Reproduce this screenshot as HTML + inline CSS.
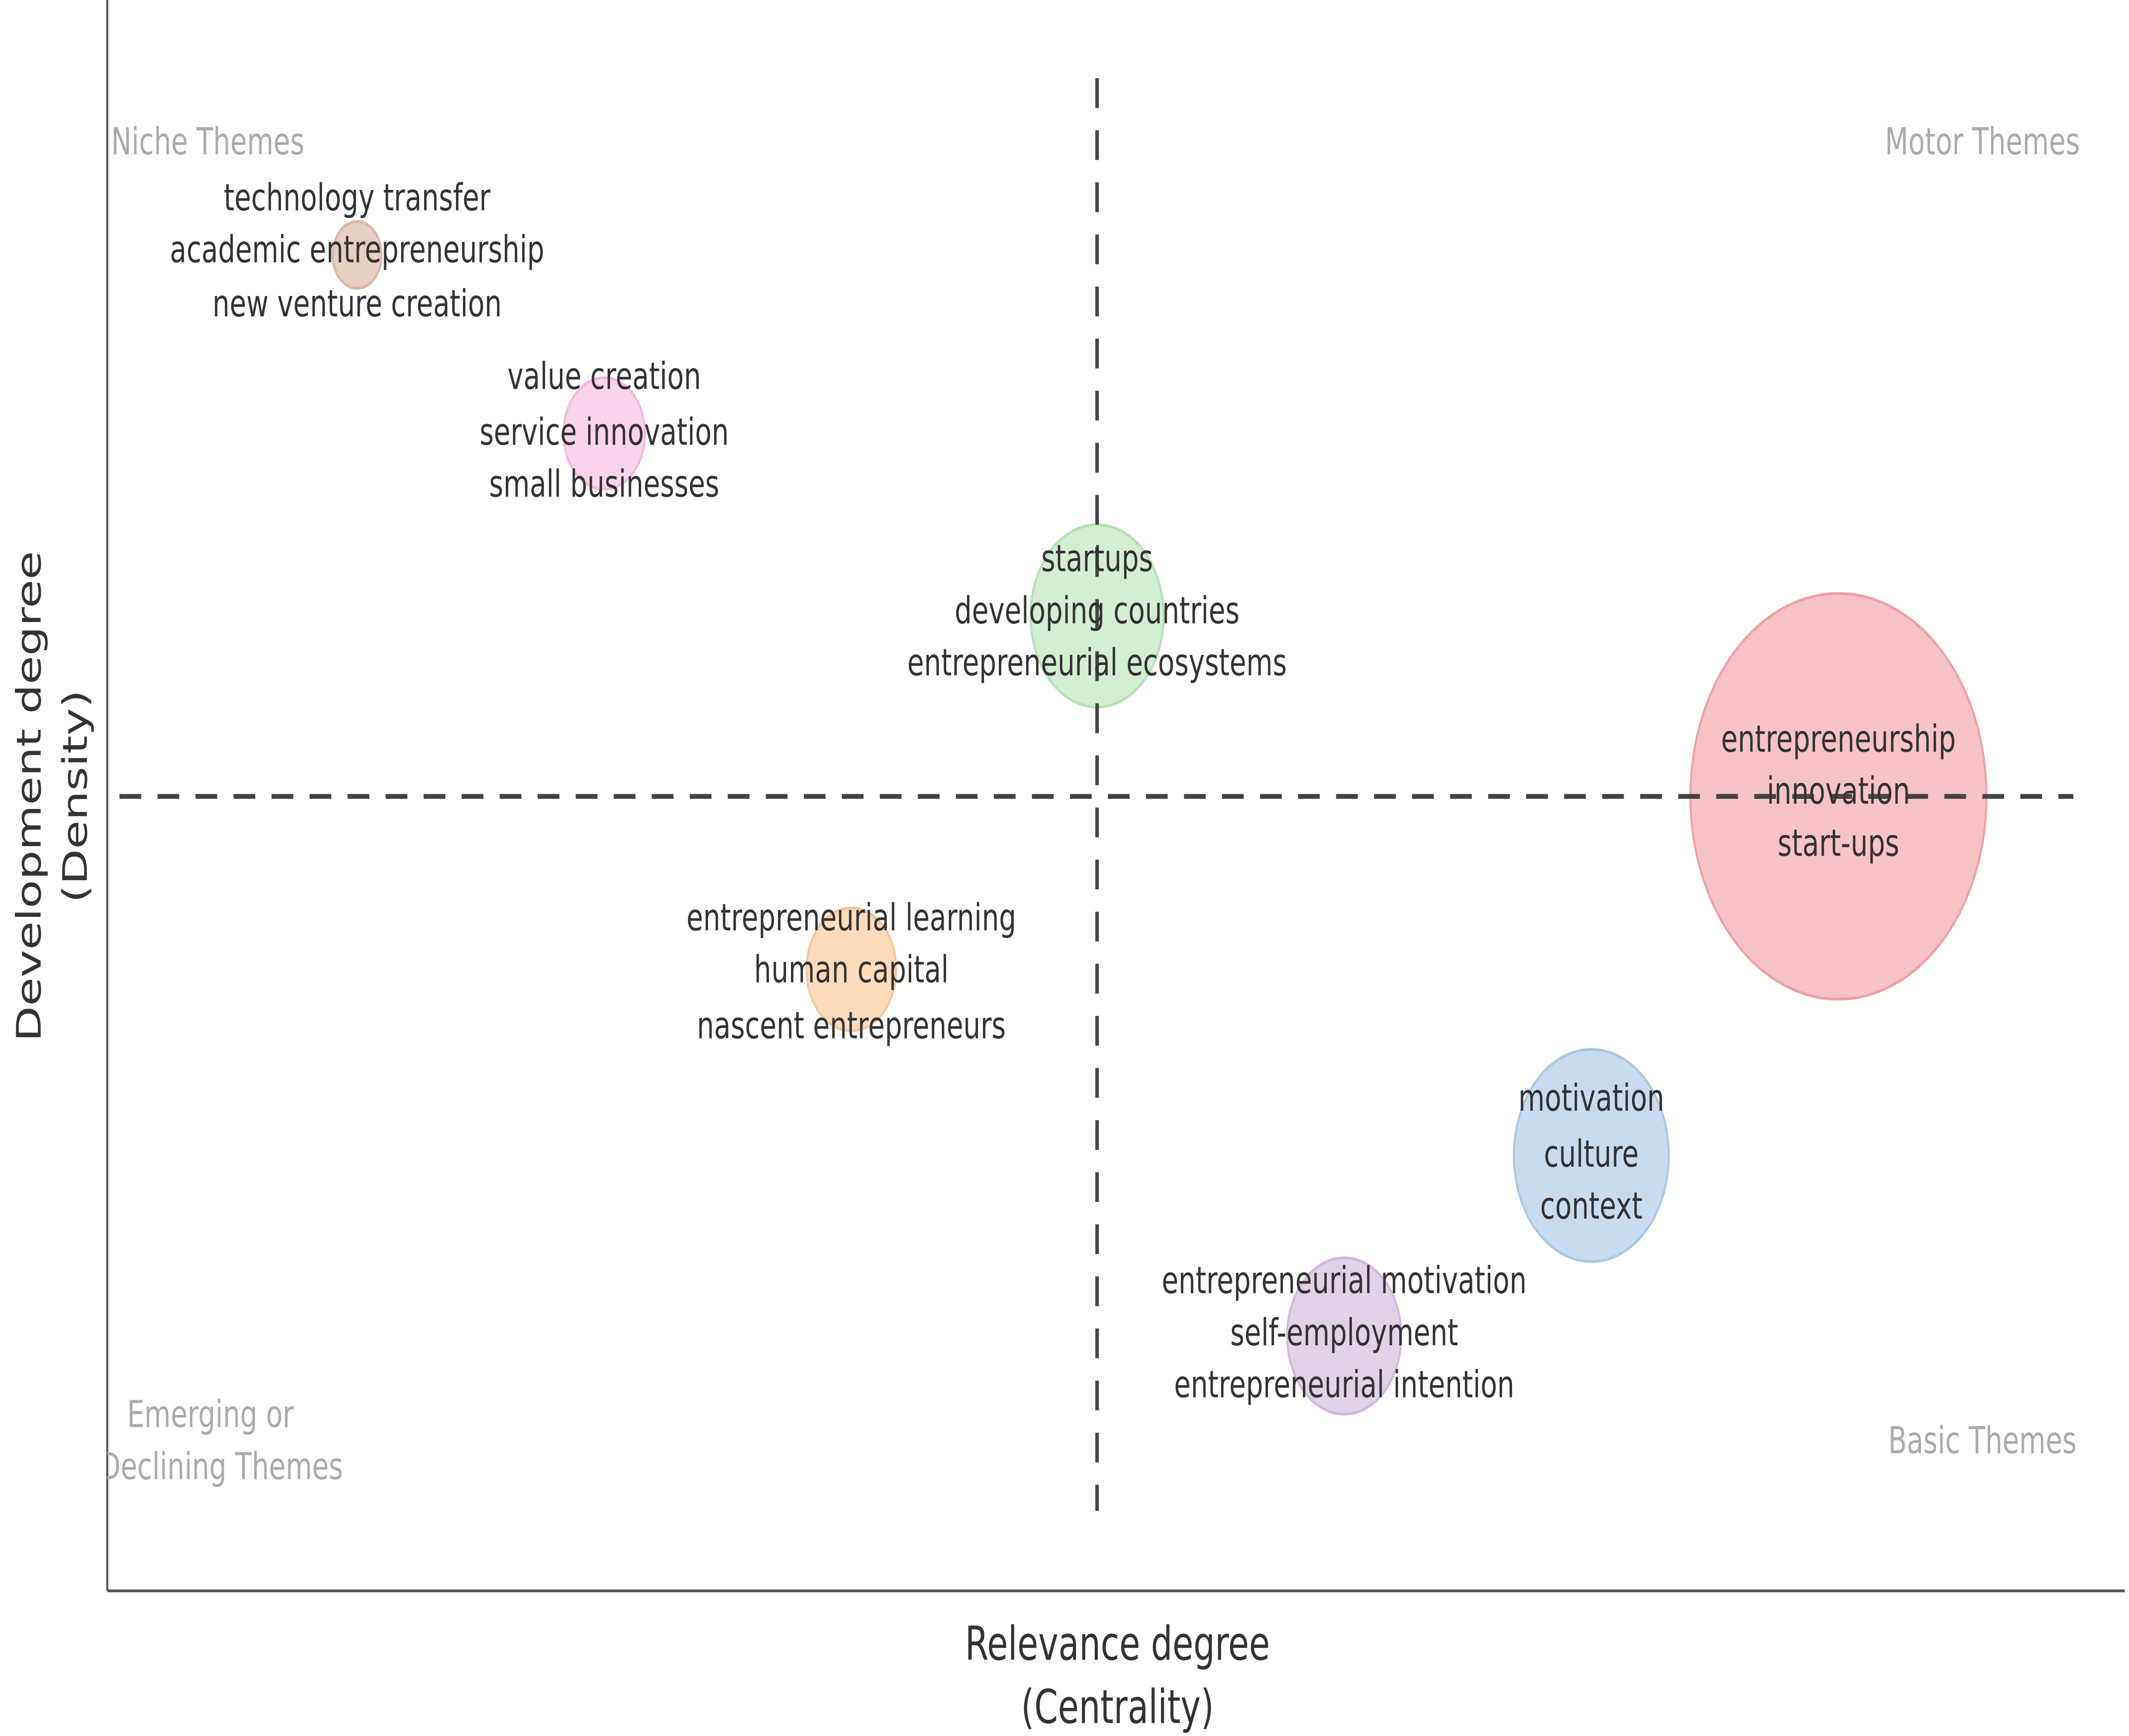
<!DOCTYPE html>
<html><head><meta charset="utf-8"><style>
html,body{margin:0;padding:0;background:#fff;width:100%;height:100%;overflow:hidden;}
svg{display:block;width:100vw;height:100vh;}
text{font-family:"DejaVu Sans","Liberation Sans",sans-serif;}
</style></head><body>
<svg viewBox="0 0 1568 933" preserveAspectRatio="none" xmlns="http://www.w3.org/2000/svg">
<defs><clipPath id="pl"><rect x="79" y="0" width="1490" height="855"/></clipPath></defs>
<rect width="1568" height="933" fill="#fff"/>
<circle cx="263" cy="137" r="18" fill="#e6cfc3" stroke="#d9b8a8" stroke-width="1.5"/>
<circle cx="445" cy="233" r="30" fill="#fad3ec" stroke="#f4b8de" stroke-width="1.5"/>
<circle cx="808" cy="331" r="49" fill="#d4eed4" stroke="#b5e2b5" stroke-width="1.5"/>
<circle cx="1354" cy="428" r="109" fill="#f7c3c6" stroke="#f0a0a5" stroke-width="1.5"/>
<circle cx="627" cy="521" r="33" fill="#fddcbc" stroke="#f9c69a" stroke-width="1.5"/>
<circle cx="1172" cy="621" r="57" fill="#c9dcee" stroke="#a9c8e6" stroke-width="1.5"/>
<circle cx="990" cy="718" r="42" fill="#e3d1e8" stroke="#d2b8dc" stroke-width="1.5"/>
<line x1="79" y1="0" x2="79" y2="855" stroke="#555" stroke-width="1.5"/>
<line x1="79" y1="855" x2="1565" y2="855" stroke="#555" stroke-width="1.5"/>
<line x1="808" y1="42" x2="808" y2="812" stroke="#444" stroke-width="2.6" stroke-dasharray="16,12"/>
<line x1="88" y1="428" x2="1527" y2="428" stroke="#444" stroke-width="2.6" stroke-dasharray="16,12"/>
<g clip-path="url(#pl)" font-size="20" fill="#aaa" text-anchor="middle">
<text x="153" y="83">Niche Themes</text>
<text x="1460" y="83">Motor Themes</text>
<text x="155" y="767">Emerging or</text>
<text x="163" y="795">Declining Themes</text>
<text x="1460" y="781">Basic Themes</text>
</g>
<g font-size="20" fill="#333" text-anchor="middle">
<text x="263" y="113">technology transfer</text>
<text x="263" y="141">academic entrepreneurship</text>
<text x="263" y="170">new venture creation</text>
<text x="445" y="209">value creation</text>
<text x="445" y="239">service innovation</text>
<text x="445" y="267">small businesses</text>
<text x="808" y="307">startups</text>
<text x="808" y="335">developing countries</text>
<text x="808" y="363">entrepreneurial ecosystems</text>
<text x="1354" y="404">entrepreneurship</text>
<text x="1354" y="432">innovation</text>
<text x="1354" y="460">start-ups</text>
<text x="627" y="500">entrepreneurial learning</text>
<text x="627" y="528">human capital</text>
<text x="627" y="558">nascent entrepreneurs</text>
<text x="1172" y="597">motivation</text>
<text x="1172" y="627">culture</text>
<text x="1172" y="655">context</text>
<text x="990" y="695">entrepreneurial motivation</text>
<text x="990" y="723">self-employment</text>
<text x="990" y="751">entrepreneurial intention</text>
</g>
<g font-size="25" fill="#333" text-anchor="middle">
<text x="823" y="892">Relevance degree</text>
<text x="823" y="926">(Centrality)</text>
<g transform="translate(30,428) rotate(-90)"><text x="0" y="0">Development degree</text></g>
<g transform="translate(64,428) rotate(-90)"><text x="0" y="0">(Density)</text></g>
</g>
</svg>
</body></html>
